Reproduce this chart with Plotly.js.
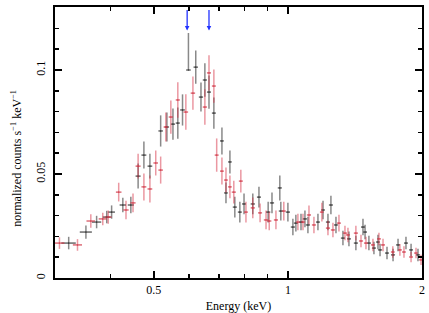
<!DOCTYPE html>
<html>
<head>
<meta charset="utf-8">
<script src="https://cdn.plot.ly/plotly-3.0.1.min.js"></script>
<style>html,body{margin:0;padding:0;background:#fff;}#plot{width:429px;height:313px;}</style>
</head>
<body>
<div id="plot"></div>
<script>
// Black spectrum (energy keV, normalized counts s^-1 keV^-1)
const blackE = [0.322,0.352,0.372,0.392,0.402,0.426,0.444,0.461,0.475,0.490,0.518,0.535,0.552,0.566,0.580,0.598,0.621,0.638,0.651,0.665,0.682,0.711,0.726,0.741,0.760,0.780,0.797,0.834,0.861,0.903,0.921,0.959,0.964,1.000,1.026,1.042,1.070,1.092,1.109,1.168,1.199,1.230,1.249,1.282,1.329,1.371,1.421,1.474,1.490,1.520,1.560,1.593,1.610,1.669,1.722,1.767,1.841,1.890,1.959];
const blackV = [0.0168,0.0221,0.0269,0.0293,0.0317,0.0351,0.0351,0.0490,0.0591,0.0538,0.0707,0.0726,0.0740,0.0745,0.0808,0.1000,0.1014,0.0870,0.0952,0.0894,0.0793,0.0659,0.0409,0.0558,0.0341,0.0317,0.0356,0.0356,0.0389,0.0317,0.0361,0.0433,0.0322,0.0317,0.0245,0.0264,0.0269,0.0284,0.0255,0.0269,0.0327,0.0269,0.0351,0.0255,0.0192,0.0188,0.0168,0.0245,0.0221,0.0168,0.0144,0.0173,0.0135,0.0120,0.0111,0.0159,0.0168,0.0135,0.0111];
const blackErrUp = [0.0030,0.0032,0.0030,0.0030,0.0032,0.0035,0.0040,0.0060,0.0065,0.0060,0.0075,0.0070,0.0075,0.0075,0.0075,0.0178,0.0080,0.0070,0.0080,0.0080,0.0075,0.0065,0.0050,0.0055,0.0050,0.0050,0.0050,0.0050,0.0050,0.0050,0.0050,0.0060,0.0045,0.0045,0.0040,0.0040,0.0040,0.0040,0.0040,0.0040,0.0045,0.0040,0.0045,0.0040,0.0035,0.0035,0.0035,0.0040,0.0035,0.0035,0.0030,0.0035,0.0030,0.0030,0.0030,0.0030,0.0030,0.0030,0.0030];
const blackErrDn = [0.0030,0.0032,0.0030,0.0030,0.0032,0.0035,0.0040,0.0060,0.0065,0.0060,0.0075,0.0070,0.0075,0.0075,0.0075,0.0000,0.0080,0.0070,0.0080,0.0080,0.0075,0.0065,0.0050,0.0055,0.0050,0.0050,0.0050,0.0050,0.0050,0.0050,0.0050,0.0060,0.0045,0.0045,0.0040,0.0040,0.0040,0.0040,0.0040,0.0040,0.0045,0.0040,0.0045,0.0040,0.0035,0.0035,0.0035,0.0040,0.0035,0.0035,0.0030,0.0035,0.0030,0.0030,0.0030,0.0030,0.0030,0.0030,0.0030];
const blackBinHalf = [0.012,0.011,0.009,0.008,0.007,0.007,0.007,0.006,0.006,0.006,0.006,0.006,0.006,0.006,0.007,0.007,0.007,0.007,0.007,0.007,0.007,0.007,0.007,0.007,0.008,0.008,0.008,0.009,0.009,0.010,0.010,0.010,0.010,0.011,0.011,0.011,0.011,0.012,0.012,0.012,0.012,0.013,0.013,0.013,0.014,0.014,0.015,0.015,0.015,0.016,0.016,0.016,0.017,0.017,0.018,0.018,0.019,0.019,0.020];

// Red spectrum
const redE = [0.307,0.337,0.361,0.384,0.395,0.417,0.433,0.449,0.461,0.475,0.490,0.505,0.518,0.532,0.546,0.566,0.590,0.612,0.651,0.665,0.682,0.692,0.711,0.726,0.741,0.756,0.784,0.805,0.834,0.866,0.893,0.908,0.940,0.979,1.053,1.081,1.115,1.144,1.192,1.230,1.262,1.302,1.343,1.364,1.421,1.459,1.497,1.552,1.601,1.635,1.720,1.784,1.822,1.890,1.939,1.990];
const redV = [0.0168,0.0159,0.0274,0.0284,0.0293,0.0413,0.0327,0.0361,0.0538,0.0438,0.0428,0.0553,0.0519,0.0726,0.0774,0.0856,0.0798,0.0889,0.0822,0.0986,0.0923,0.0591,0.0514,0.0471,0.0438,0.0413,0.0466,0.0317,0.0337,0.0313,0.0279,0.0274,0.0279,0.0322,0.0269,0.0269,0.0303,0.0255,0.0317,0.0240,0.0231,0.0264,0.0216,0.0207,0.0216,0.0178,0.0168,0.0159,0.0188,0.0159,0.0125,0.0135,0.0125,0.0101,0.0120,0.0087];
const redErr = [0.0028,0.0028,0.0032,0.0030,0.0032,0.0045,0.0045,0.0045,0.0060,0.0065,0.0065,0.0060,0.0065,0.0070,0.0080,0.0085,0.0085,0.0080,0.0085,0.0085,0.0080,0.0080,0.0065,0.0060,0.0055,0.0055,0.0055,0.0050,0.0050,0.0045,0.0045,0.0045,0.0045,0.0045,0.0040,0.0040,0.0045,0.0040,0.0045,0.0035,0.0035,0.0040,0.0035,0.0035,0.0035,0.0030,0.0030,0.0030,0.0030,0.0030,0.0028,0.0028,0.0028,0.0025,0.0025,0.0025];
const redBinHalf = [0.008,0.008,0.008,0.008,0.007,0.006,0.006,0.006,0.006,0.006,0.006,0.006,0.006,0.006,0.006,0.006,0.007,0.007,0.007,0.007,0.007,0.007,0.007,0.007,0.007,0.008,0.008,0.008,0.009,0.009,0.010,0.010,0.010,0.010,0.011,0.011,0.012,0.012,0.012,0.013,0.013,0.013,0.014,0.014,0.015,0.015,0.015,0.016,0.016,0.017,0.017,0.018,0.018,0.019,0.019,0.020];

// Line-feature markers (keV)
const arrowE = [0.594, 0.665];
const arrowTip = 0.119;

// Axis ticks
const xTickVals = [0.5, 1, 2];
const xTickText = ['0.5', '1', '2'];
const xMinorVals = [0.4, 0.6, 0.7, 0.8, 0.9];
const yTickVals = [0, 0.05, 0.1];
const yTickText = ['0', '0.05', '0.1'];
const yTitle = 'normalized counts s<sup>−1</sup> keV<sup>−1</sup>';

const traces = [
  {
    x: blackE, y: blackV, type: 'scatter', mode: 'markers',
    marker: {size: 1, color: '#222'},
    error_y: {type: 'data', symmetric: false, array: blackErrUp, arrayminus: blackErrDn, color: 'rgba(40,40,40,0.55)', thickness: 1.5, width: 0},
    error_x: {type: 'data', array: blackBinHalf, color: '#333', thickness: 1.1, width: 0},
    hoverinfo: 'skip', showlegend: false
  },
  {
    x: redE, y: redV, type: 'scatter', mode: 'markers',
    marker: {size: 1, color: '#d03040'},
    error_y: {type: 'data', array: redErr, color: 'rgba(215,50,70,0.5)', thickness: 1.5, width: 0},
    error_x: {type: 'data', array: redBinHalf, color: '#d03848', thickness: 1.1, width: 0},
    hoverinfo: 'skip', showlegend: false
  }
];

const fontFam = 'Liberation Serif, Times New Roman, serif';

const annotations = arrowE.map(e => ({
  x: Math.log10(e), y: arrowTip, xref: 'x', yref: 'y',
  showarrow: true, arrowhead: 2, arrowsize: 0.7, arrowwidth: 1.3, arrowcolor: '#2233ff',
  axref: 'pixel', ayref: 'pixel', ax: 0, ay: -22, text: ''
}));
annotations.push({
  text: yTitle, textangle: -90, showarrow: false,
  xref: 'paper', yref: 'paper', x: -0.104, y: 0.443,
  xanchor: 'center', yanchor: 'middle',
  font: {family: fontFam, size: 12, color: '#000'}
});

const layout = {
  width: 429, height: 313,
  margin: {l: 55, r: 7, t: 7, b: 35},
  paper_bgcolor: '#fff', plot_bgcolor: '#fff',
  font: {family: fontFam, size: 12, color: '#000'},
  showlegend: false,
  xaxis: {
    type: 'log', range: [Math.log10(0.3), Math.log10(2)],
    tickmode: 'array', tickvals: xTickVals, ticktext: xTickText,
    ticks: 'inside', ticklen: 7, tickwidth: 1.5, tickcolor: '#000',
    minor: {tickmode: 'array', tickvals: xMinorVals, ticks: 'inside', ticklen: 4, tickwidth: 1.5, tickcolor: '#000', showgrid: false},
    showline: true, linecolor: '#000', linewidth: 2, mirror: 'allticks',
    showgrid: false, zeroline: false,
    tickfont: {family: fontFam, size: 12},
    title: {text: 'Energy (keV)', font: {family: fontFam, size: 12}, standoff: 8}
  },
  yaxis: {
    range: [0, 0.1303],
    tickmode: 'array', tickvals: yTickVals, ticktext: yTickText,
    tickangle: -90,
    ticks: 'inside', ticklen: 7, tickwidth: 1.5, tickcolor: '#000',
    minor: {dtick: 0.01, tick0: 0, ticks: 'inside', ticklen: 4, tickwidth: 1.5, tickcolor: '#000', showgrid: false},
    showline: true, linecolor: '#000', linewidth: 2, mirror: 'allticks',
    showgrid: false, zeroline: false,
    tickfont: {family: fontFam, size: 12},
    ticklabelstandoff: 3
  },
  annotations: annotations
};

Plotly.newPlot('plot', traces, layout, {displayModeBar: false, staticPlot: true});
</script>
</body>
</html>
